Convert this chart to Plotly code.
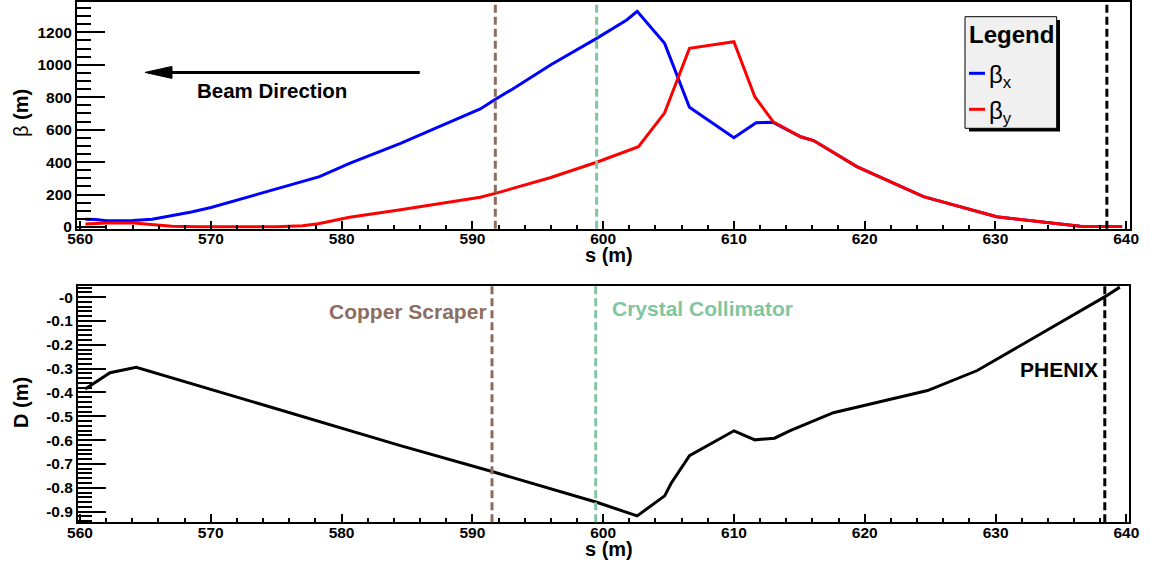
import plotly.graph_objects as go

# ---- optics along the ring (s in metres) ----
s_betax = [560.4, 561.2, 562.0, 564.0, 565.5, 567.0, 568.5, 570.0, 571.7, 574.3,
           576.8, 578.3, 580.6, 581.9, 584.5, 587.5, 590.6, 591.7, 592.9, 596.0,
           599.5, 601.8, 602.6, 604.7, 605.0, 606.6, 610.0, 611.7, 613.0, 615.1,
           616.1, 619.4, 624.5, 630.1, 636.5, 639.7]
betax = [48, 46, 38, 40, 48, 68, 92, 120, 158, 220,
         276, 310, 392, 433, 516, 620, 728, 785, 842, 1000,
         1163, 1276, 1330, 1132, 1070, 738, 550, 643, 645, 556,
         533, 372, 187, 63, 5, 3]

s_betay = [560.4, 562.0, 564.1, 565.5, 567.0, 569.0, 572.0, 575.0, 577.0, 578.2,
           580.6, 584.5, 590.6, 592.1, 596.0, 599.5, 602.7, 604.7, 606.6, 610.0,
           611.6, 613.0, 615.1, 616.1, 619.4, 624.5, 630.1, 636.5, 639.7]
betay = [18, 25, 25, 15, 5, 1, 0, 2, 8, 20,
         60, 106, 183, 215, 305, 399, 495, 704, 1101, 1142,
         803, 649, 556, 533, 372, 187, 63, 5, 3]

s_disp = [560.4, 562.3, 564.3, 584.5, 591.5, 599.5, 602.6, 604.7, 605.2, 606.6,
          610.0, 611.6, 613.1, 614.3, 617.6, 624.8, 628.6, 638.4, 639.5]
disp = [-0.386, -0.317, -0.294, -0.623, -0.732, -0.861, -0.918, -0.834, -0.781, -0.665,
        -0.561, -0.599, -0.592, -0.560, -0.485, -0.392, -0.308, 0.003, 0.042]

# element positions (upper panel, lower panel)
scraper_s = [591.75, 591.5]
collimator_s = [599.5, 599.43]
phenix_s = [638.53, 638.35]

# axis ticks
beta_ticks = [0, 200, 400, 600, 800, 1000, 1200]
disp_ticks = [0, -0.1, -0.2, -0.3, -0.4, -0.5, -0.6, -0.7, -0.8, -0.9]
disp_ticktext = ["-0", "-0.1", "-0.2", "-0.3", "-0.4", "-0.5", "-0.6", "-0.7", "-0.8", "-0.9"]
s_ticks = [560, 570, 580, 590, 600, 610, 620, 630, 640]

# beam direction arrow (tail, tip) and level
arrow_tail_s, arrow_tip_s, arrow_beta = 585.97, 564.95, 953

W, H = 1151, 561
FONT = "Liberation Sans"
BROWN = "#8c6e5f"
GREEN = "#7fc6a0"


def fx(px):
    return px / W


def fy(py):
    return 1 - py / H


fig = go.Figure()
fig.add_trace(go.Scatter(x=s_betax, y=betax, mode="lines", name="βx",
                         line=dict(color="#0000ff", width=3), xaxis="x", yaxis="y"))
fig.add_trace(go.Scatter(x=s_betay, y=betay, mode="lines", name="βy",
                         line=dict(color="#ff0000", width=3), xaxis="x", yaxis="y"))
fig.add_trace(go.Scatter(x=s_disp, y=disp, mode="lines", name="D",
                         line=dict(color="black", width=3), xaxis="x2", yaxis="y2"))

tickfont = dict(family=FONT, size=15.5, color="black", weight="bold")
common_x = dict(showline=True, linewidth=2, linecolor="black", mirror=True,
                ticks="inside", ticklen=8, tickwidth=2, tickcolor="black",
                tickvals=s_ticks, tickfont=tickfont, showgrid=False, zeroline=False,
                automargin=False, ticklabelstandoff=-5,
                minor=dict(dtick=2, tick0=560, ticks="inside", ticklen=4,
                           tickwidth=2, tickcolor="black", showgrid=False))
common_y = dict(showline=True, linewidth=2, linecolor="black", mirror=True,
                ticks="inside", ticklen=28, tickwidth=2, tickcolor="black",
                tickfont=tickfont, showgrid=False, zeroline=False, automargin=False)

fig.update_layout(
    template="none",
    width=W, height=H,
    margin=dict(l=0, r=0, t=0, b=0, pad=0),
    paper_bgcolor="white", plot_bgcolor="white",
    showlegend=False,
    font=dict(family=FONT, color="black"),
    xaxis=dict(domain=[fx(77), fx(1130)], anchor="y", range=[559.75, 640.3], **common_x),
    yaxis=dict(domain=[fy(228.7), fy(2)], anchor="x", range=[-10.5, 1387],
               tickvals=beta_ticks,
               minor=dict(dtick=50, tick0=0, ticks="inside", ticklen=14, tickwidth=2,
                          tickcolor="black", showgrid=False),
               **common_y),
    xaxis2=dict(domain=[fx(78), fx(1129)], anchor="y2", range=[559.85, 640.2], **common_x),
    yaxis2=dict(domain=[fy(522.3), fy(285.7)], anchor="x2", range=[-0.945, 0.048],
                tickvals=disp_ticks, ticktext=disp_ticktext,
                minor=dict(dtick=0.02, tick0=0, ticks="inside", ticklen=14, tickwidth=2,
                           tickcolor="black", showgrid=False),
                **common_y),
)

shapes = []
# element markers
for xr, yr, idx in (("x", "y domain", 0), ("x2", "y2 domain", 1)):
    for pos, col in ((scraper_s[idx], BROWN), (collimator_s[idx], GREEN), (phenix_s[idx], "black")):
        shapes.append(dict(type="line", xref=xr, yref=yr, x0=pos, x1=pos, y0=0, y1=1,
                           line=dict(color=col, width=3, dash="8px,4px")))

# beam direction arrow
head_len = 27 / 13.07
head_half = 6 / 0.16225
shapes.append(dict(type="line", xref="x", yref="y", x0=arrow_tail_s, x1=arrow_tip_s + head_len,
                   y0=arrow_beta, y1=arrow_beta, line=dict(color="black", width=3)))
shapes.append(dict(type="path", xref="x", yref="y",
                   path=(f"M {arrow_tip_s},{arrow_beta} L {arrow_tip_s + head_len},{arrow_beta + head_half} "
                         f"L {arrow_tip_s + head_len},{arrow_beta - head_half} Z"),
                   fillcolor="black", line=dict(color="black", width=1)))

# legend box with drop shadow
shapes.append(dict(type="rect", xref="paper", yref="paper",
                   x0=fx(969), x1=fx(1060), y0=fy(131.5), y1=fy(20),
                   fillcolor="black", line=dict(width=0)))
shapes.append(dict(type="rect", xref="paper", yref="paper",
                   x0=fx(965), x1=fx(1056.7), y0=fy(128.3), y1=fy(16.7),
                   fillcolor="#f0f0f0", line=dict(color="black", width=1)))
for ypx, col in ((73.3, "#0000ff"), (109.3, "#ff0000")):
    shapes.append(dict(type="line", xref="paper", yref="paper",
                       x0=fx(969), x1=fx(985), y0=fy(ypx), y1=fy(ypx),
                       line=dict(color=col, width=3)))
fig.update_layout(shapes=shapes)

bold20 = dict(family=FONT, size=20, color="black", weight="bold")


def label(text, xref, yref, x, y, font, xanchor="center", angle=0):
    return dict(text=text, xref=xref, yref=yref, x=x, y=y, xanchor=xanchor, yanchor="middle",
                textangle=angle, showarrow=False, font=font)


ann = [
    label("β <b>(m)</b>", "paper", "paper", fx(21), fy(113),
          dict(family=FONT, size=20, color="black"), angle=-90),
    label("D (m)", "paper", "paper", fx(21), fy(403), bold20, angle=-90),
    label("s (m)", "paper", "paper", fx(609), fy(255), bold20),
    label("s (m)", "paper", "paper", fx(609), fy(549), bold20),
    label("Beam Direction", "x", "y", 574.65, 844,
          dict(family=FONT, size=20.5, color="black", weight="bold")),
    label("Copper Scraper", "x2", "y2", 591.3, -0.06,
          dict(family=FONT, size=21, color=BROWN, weight="bold"), xanchor="right"),
    label("Crystal Collimator", "x2", "y2", 600.53, -0.046,
          dict(family=FONT, size=21, color=GREEN, weight="bold"), xanchor="left"),
    label("PHENIX", "x2", "y2", 638.0, -0.305,
          dict(family=FONT, size=21, color="black", weight="bold"), xanchor="right"),
    label("Legend", "paper", "paper", fx(1011), fy(35),
          dict(family=FONT, size=24, color="black", weight="bold")),
    label("β<sub>x</sub>", "paper", "paper", fx(987), fy(76),
          dict(family=FONT, size=24, color="black"), xanchor="left"),
    label("β<sub>y</sub>", "paper", "paper", fx(987), fy(112),
          dict(family=FONT, size=24, color="black"), xanchor="left"),
]
fig.update_layout(annotations=ann)

fig.write_html("out.html")
